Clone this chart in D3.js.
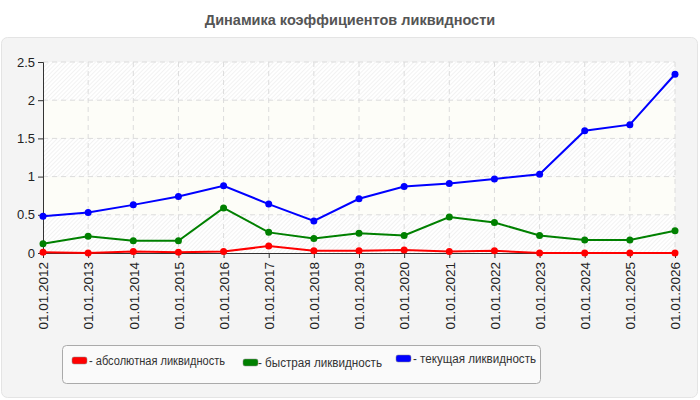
<!DOCTYPE html>
<html>
<head>
<meta charset="utf-8">
<script src="https://cdn.jsdelivr.net/npm/d3@7"></script>
<style>
  body { margin: 0; background: #fff; }
  text { font-family: "Liberation Sans", Arial, sans-serif; }
</style>
</head>
<body>
<script>
// data
const dates = ["01.01.2012","01.01.2013","01.01.2014","01.01.2015","01.01.2016","01.01.2017","01.01.2018",
  "01.01.2019","01.01.2020","01.01.2021","01.01.2022","01.01.2023","01.01.2024","01.01.2025","01.01.2026"];
const absolute = [0.01,0.00,0.02,0.01,0.02,0.09,0.03,0.03,0.04,0.02,0.03,0.00,0.00,0.00,0.00];
const quick    = [0.12,0.22,0.16,0.16,0.59,0.27,0.19,0.26,0.23,0.47,0.40,0.23,0.17,0.17,0.29];
const current  = [0.48,0.53,0.63,0.74,0.88,0.64,0.42,0.71,0.87,0.91,0.97,1.03,1.60,1.68,2.34];
const yTicks = [0, 0.5, 1, 1.5, 2, 2.5];
const seriesNames = ["- абсолютная ликвидность","- быстрая ликвидность","- текущая ликвидность"];
const seriesColors = ["#ff0000","#008000","#0000ff"];

const w = 700, h = 400;
const plotL = 43, plotR = 675, plotT = 62, plotB = 253;

const svg = d3.select("body").append("svg").attr("width", w).attr("height", h);

const defs = svg.append("defs");
const pat = defs.append("pattern").attr("id","hatch").attr("patternUnits","userSpaceOnUse")
  .attr("width",3).attr("height",3).attr("patternTransform","rotate(45)");
pat.append("rect").attr("width",3).attr("height",3).attr("fill","#ffffff");
pat.append("line").attr("x1",0).attr("y1",0).attr("x2",0).attr("y2",3)
  .attr("stroke","#e6e6e6").attr("stroke-width",1);

// title
svg.append("text").attr("x", 350).attr("y", 25).attr("text-anchor","middle")
  .attr("font-size", 14.5).attr("font-weight","bold").attr("fill","#555")
  .text("Динамика коэффициентов ликвидности");

// panel
svg.append("rect").attr("x",1.5).attr("y",37.5).attr("width",696).attr("height",360)
  .attr("rx",6).attr("fill","#f4f4f4").attr("stroke","#e4e4e4");

const x = d3.scalePoint().domain(dates).range([plotL, plotR]);
const y = d3.scaleLinear().domain([0, 2.5]).range([plotB, plotT]);

// bands
const bandsG = svg.append("g");
for (let i = 0; i < yTicks.length - 1; i++) {
  bandsG.append("rect").attr("x", plotL).attr("width", plotR - plotL)
    .attr("y", y(yTicks[i+1])).attr("height", y(yTicks[i]) - y(yTicks[i+1]))
    .attr("fill", i % 2 === 0 ? "url(#hatch)" : "#fdfdf8");
}

// grid
svg.append("g").selectAll("line").data(yTicks.slice(1)).enter().append("line")
  .attr("x1", plotL).attr("x2", plotR).attr("y1", d => y(d)).attr("y2", d => y(d))
  .attr("stroke","#dcdcdc").attr("stroke-dasharray","5,4");
svg.append("g").selectAll("line").data(dates.slice(1)).enter().append("line")
  .attr("x1", d => x(d)).attr("x2", d => x(d)).attr("y1", plotT).attr("y2", plotB)
  .attr("stroke","#dcdcdc").attr("stroke-dasharray","5,4");

// axes
const yAxis = d3.axisLeft(y).tickValues(yTicks).tickSize(5).tickFormat(d3.format("~g"));
const yg = svg.append("g").attr("transform","translate(" + plotL + ",0)").call(yAxis);
yg.selectAll("text").attr("font-size", 13).attr("fill","#222").attr("font-family","Liberation Sans, Arial, sans-serif");
yg.selectAll("line, path").attr("stroke","#333");

const xAxis = d3.axisBottom(x).tickSize(5).tickSizeOuter(0);
const xg = svg.append("g").attr("transform","translate(0," + plotB + ")").call(xAxis);
xg.selectAll("line, path").attr("stroke","#333");
xg.selectAll("text").attr("font-size", 13.5).attr("fill","#222")
  .attr("font-family","Liberation Sans, Arial, sans-serif")
  .attr("transform","rotate(-90)").attr("text-anchor","end")
  .attr("x", -9).attr("y", 0).attr("dy","0.35em");

// lines
const series = [absolute, quick, current];
const line = d3.line().x((d, i) => x(dates[i])).y(d => y(d));
series.forEach((s, k) => {
  svg.append("path").datum(s).attr("d", line).attr("fill","none")
    .attr("stroke", seriesColors[k]).attr("stroke-width", 2);
  svg.append("g").selectAll("circle").data(s).enter().append("circle")
    .attr("cx", (d, i) => x(dates[i])).attr("cy", d => y(d)).attr("r", 3.5)
    .attr("fill", seriesColors[k]);
});

// legend
svg.append("rect").attr("x",62.5).attr("y",345.5).attr("width",478).attr("height",38)
  .attr("rx",4).attr("fill","#fafafa").attr("stroke","#aaa");
const legX = [72, 243, 396];
const legY = [361, 363, 359];
const textX = [89, 258, 413];
seriesNames.forEach((n, k) => {
  svg.append("rect").attr("x", legX[k]).attr("y", legY[k] - 4).attr("width", 15).attr("height", 7)
    .attr("rx", 2).attr("fill", seriesColors[k]).attr("stroke","#888").attr("stroke-width",0.5);
  svg.append("text").attr("x", textX[k]).attr("y", legY[k] + 4).attr("font-size", 12)
    .attr("fill","#333").attr("textLength", k === 0 ? 136 : (k === 1 ? 124 : 123))
    .attr("lengthAdjust","spacingAndGlyphs").text(n);
});
</script>
</body>
</html>
